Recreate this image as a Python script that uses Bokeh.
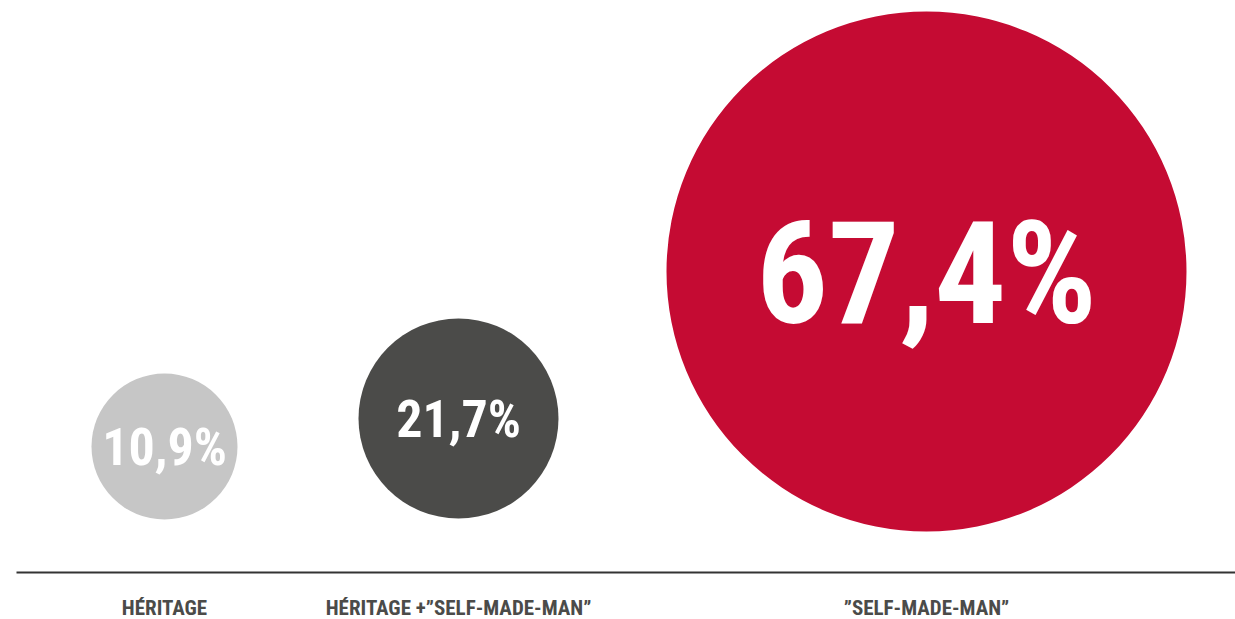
from bokeh.plotting import figure
from bokeh.models import ColumnDataSource, Range1d
from bokeh.core.properties import value
from bokeh.embed import file_html
from bokeh.resources import INLINE

# data
categories = ["HÉRITAGE", "HÉRITAGE +\u201dSELF-MADE-MAN\u201d", "\u201dSELF-MADE-MAN\u201d"]
values = [10.9, 21.7, 67.4]
value_labels = [f"{v:.1f}%".replace(".", ",") for v in values]

# layout / style (pixels)
cx = [164, 458, 926]
cy = [446, 418, 271]
radii = [73, 100, 260]
colors = ["#C6C6C6", "#4B4B49", "#C50B33"]
font_sizes = ["52px", "52px", "142px"]
text_y = [447, 419, 274]
label_y = 607
FONT = "Roboto Condensed"

W, H = 1235, 619
p = figure(width=W, height=H, x_range=Range1d(0, W), y_range=Range1d(H, 0),
           output_backend="svg", toolbar_location=None, min_border=0)
p.axis.visible = False
p.grid.visible = False
p.outline_line_color = None
p.background_fill_color = "white"

src = ColumnDataSource(dict(x=cx, y=cy, r=radii, c=colors, lab=value_labels,
                            fs=font_sizes, ty=text_y, cat=categories,
                            ly=[label_y] * 3))
p.circle(x="x", y="y", radius="r", fill_color="c", line_color=None, source=src)
p.text(x="x", y="ty", text="lab", text_font_size="fs", text_color="white",
       text_align="center", text_baseline="middle",
       text_font=value(FONT), text_font_style="bold", source=src)

p.segment(x0=[16], y0=[572], x1=[1235], y1=[572], line_color="#333333", line_width=2)

p.text(x="x", y="ly", text="cat", text_font_size="21px", text_color="#4B4B49",
       text_align="center", text_baseline="middle",
       text_font=value(FONT), text_font_style="bold", source=src)

open("out.html", "w").write(file_html(p, INLINE))
